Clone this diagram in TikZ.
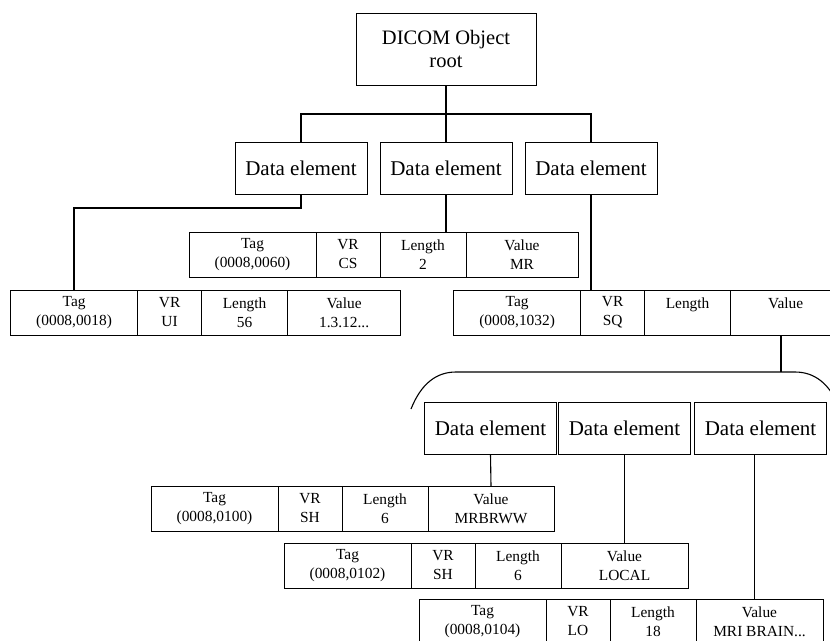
\documentclass[tikz,border=0pt]{standalone}
\usepackage{fontspec}
\setmainfont{Liberation Serif}
\usetikzlibrary{positioning}

\tikzset{
  rootbox/.style={draw, line width=1pt, minimum width=180pt, minimum height=72pt, align=center, inner sep=0pt, outer sep=0pt, font=\fontsize{20.5}{23}\selectfont},
  elembox/.style={draw, line width=1pt, minimum width=132pt, minimum height=52pt, inner sep=0pt, outer sep=0pt, font=\fontsize{21}{24}\selectfont},
  cell/.style={draw, line width=1pt, minimum height=45pt, align=center, inner sep=0pt, outer sep=0pt, anchor=north west, font=\fontsize{15.4}{19}\selectfont},
  tagcell/.style={cell, minimum width=127pt},
  vrcell/.style={cell, minimum width=64pt},
  lencell/.style={cell, minimum width=86pt},
  valcell/.style={cell, minimum width=#1},
  tree/.style={line width=1.8pt},
  link/.style={line width=1.1pt}
}

\begin{document}
\begin{tikzpicture}[x=1pt,y=-1pt]
\useasboundingbox (0,0) rectangle (830,640);

\node[rootbox] (root) at (446,49) {DICOM Object\\root};
\coordinate (fork) at (446,114);

\node[elembox] (de1) at (301,168) {Data element};
\node[elembox] (de2) at (446,168) {Data element};
\node[elembox] (de3) at (591,168) {Data element};

% first level rows
\node[tagcell] (mr-tag) at (189,232) {Tag\\(0008,0060)};
\node[vrcell, right=0pt of mr-tag] (mr-vr) {VR\\CS};
\node[lencell, right=0pt of mr-vr] (mr-len) {Length\\2};
\node[valcell=112pt, right=0pt of mr-len] (mr-val) {Value\\MR};

\node[tagcell] (ui-tag) at (10.6,290) {Tag\\(0008,0018)};
\node[vrcell, right=0pt of ui-tag] (ui-vr) {VR\\UI};
\node[lencell, right=0pt of ui-vr] (ui-len) {Length\\56};
\node[valcell=113pt, right=0pt of ui-len] (ui-val) {Value\\1.3.12...};

\node[tagcell] (sq-tag) at (453.6,290) {Tag\\(0008,1032)};
\node[vrcell, right=0pt of sq-tag] (sq-vr) {VR\\SQ};
\node[lencell, right=0pt of sq-vr] (sq-len) {Length\\\phantom{0}};
\node[valcell=110pt, right=0pt of sq-len] (sq-val) {Value\\\phantom{0}};

\draw[tree] (root.south) -- (de2.north);
\draw[tree] (de1.north) |- (fork) -| (de3.north);
\draw[tree] (de1.south) -- ++(0,14) -| (ui-tag.north);
\draw[link] (de2.south) -- (de2.south |- mr-len.north);
\draw[link] (de3.south) -- (de3.south |- sq-vr.north);

% sequence items
\coordinate (seqtop) at (781,372);
\draw[link] (sq-val.south -| seqtop) -- (seqtop);
\draw[link] (411,409) .. controls (421,384) and (436,372) .. (456,372) -- (seqtop)
  -- (795,372) .. controls (815,372) and (830,384) .. (840,409);

\node[elembox] (sd1) at (490.5,428.5) {Data element};
\node[elembox] (sd2) at (624.5,428.5) {Data element};
\node[elembox] (sd3) at (760.5,428.5) {Data element};

\node[tagcell] (rw-tag) at (151,486) {Tag\\(0008,0100)};
\node[vrcell, right=0pt of rw-tag] (rw-vr) {VR\\SH};
\node[lencell, right=0pt of rw-vr] (rw-len) {Length\\6};
\node[valcell=126pt, right=0pt of rw-len] (rw-val) {Value\\MRBRWW};

\node[tagcell] (lc-tag) at (284,543) {Tag\\(0008,0102)};
\node[vrcell, right=0pt of lc-tag] (lc-vr) {VR\\SH};
\node[lencell, right=0pt of lc-vr] (lc-len) {Length\\6};
\node[valcell=127pt, right=0pt of lc-len] (lc-val) {Value\\LOCAL};

\node[tagcell] (br-tag) at (419,599) {Tag\\(0008,0104)};
\node[vrcell, right=0pt of br-tag] (br-vr) {VR\\LO};
\node[lencell, right=0pt of br-vr] (br-len) {Length\\18};
\node[valcell=127pt, right=0pt of br-len] (br-val) {Value\\MRI BRAIN...};

\draw[link] (sd1.south) -- (rw-val.north);
\draw[link] (sd2.south) -- (lc-val.north);
\draw[link] ([xshift=-6pt]sd3.south) -- ([xshift=-6pt]sd3.south |- br-val.north);
\end{tikzpicture}
\end{document}
